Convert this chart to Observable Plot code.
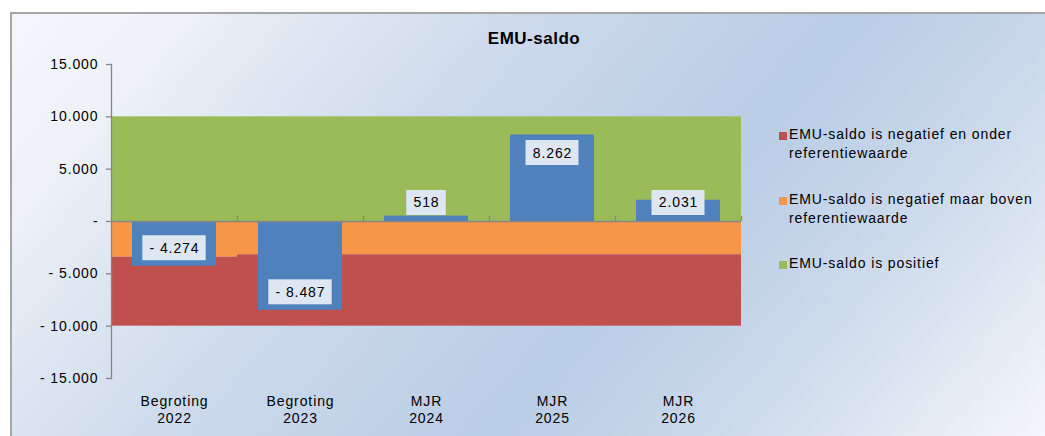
<!DOCTYPE html>
<html>
<head>
<meta charset="utf-8">
<script src="https://cdn.jsdelivr.net/npm/d3@7"></script>
<script src="https://cdn.jsdelivr.net/npm/@observablehq/plot@0.6"></script>
<style>
  html, body { margin: 0; padding: 0; background: #fff; }
  #wrap { position: relative; width: 1045px; height: 436px; overflow: hidden; background: #fff;
          font-family: "Liberation Sans", Arial, sans-serif; }
  #frame { position: absolute; left: 10px; top: 12px; width: 1036px; height: 426px;
           border-left: 2px solid #a6a6a6; border-top: 2px solid #a6a6a6;
           background: linear-gradient(131deg, #f4f6fb 0%, #eef2f8 12%, #dfe7f2 22%, #cbd8eb 39%, #b9cde5 60%, #c7d6ea 73%, #dae4f0 85%, #f4f7fb 100%); }
  #chart { position: absolute; left: 0; top: 0; }
  #title { position: absolute; left: 0; width: 1068px; top: 30px; text-align: center; font-weight: bold;
           font-size: 17px; line-height: 17px; letter-spacing: 0.5px; color: #000; }
  .leg { position: absolute; left: 789px; width: 260px; font-size: 14px; line-height: 19px; letter-spacing: 0.9px; color: #000; }
  .sw { position: absolute; left: 779px; width: 8px; height: 8px; }
</style>
</head>
<body>
<div id="wrap">
  <div id="frame"></div>
  <div id="chart"></div>
  <div id="title"></div>
  <div id="legend"></div>
</div>
<script>
// ---- data ----
const categories = ["Begroting 2022", "Begroting 2023", "MJR 2024", "MJR 2025", "MJR 2026"];
const emuSaldo = [-4274, -8487, 518, 8262, 2031];
const referentiewaarde = [-3410, -3180, -3180, -3180, -3180];
const bandTop = [10000, 10000, 10000, 10000, 10000];
const bandBottom = [-10000, -10000, -10000, -10000, -10000];
const yTicks = [-15000, -10000, -5000, 0, 5000, 10000, 15000];
const seriesNames = [
  "EMU-saldo is negatief en onder referentiewaarde",
  "EMU-saldo is negatief maar boven referentiewaarde",
  "EMU-saldo is positief"
];
const seriesColors = ["#c0504d", "#f79646", "#9bbb59"];
const barColor = "#4f81bd";
const titleText = "EMU-saldo";

// ---- layout ----
const W = 1045, H = 436;
const mLeft = 111, mRight = 304, mTop = 64, mBottom = 58;
const yDomain = [-15000, 15000];
const pxPerUnit = (H - mTop - mBottom) / (yDomain[1] - yDomain[0]);
const FS = 14;

const rows = categories.map((c, i) => ({
  cat: c, v: emuSaldo[i], ref: referentiewaarde[i], top: bandTop[i], bottom: bandBottom[i]
}));

const fmt = v => {
  if (v === 0) return "-";
  const s = d3.format(",")(Math.abs(v)).replace(/,/g, ".");
  return v < 0 ? "- " + s : s;
};

// label placement (inside end, kept clear of the zero line)
const inU = 18 / pxPerUnit, minU = 18.5 / pxPerUnit, halfBox = 12.5 / pxPerUnit;
const canvas = document.createElement("canvas");
const ctx = canvas.getContext("2d");
ctx.font = FS + "px 'Liberation Sans'";
const bandW = (W - mLeft - mRight) / categories.length;
const labels = rows.map(r => {
  const s = fmt(r.v);
  const tw = ctx.measureText(s).width + 0.9 * s.length;
  const bw = tw + 13.5;
  const sign = r.v < 0 ? -1 : 1;
  return { cat: r.cat, text: s, ly: sign * Math.max(Math.abs(r.v) - inU, minU), inset: (bandW - bw) / 2 };
});

const barInset = 21;

const marks = [
  Plot.barY(rows, { x: "cat", y1: 0, y2: "top", fill: seriesColors[2], inset: 0 }),
  Plot.barY(rows, { x: "cat", y1: 0, y2: "ref", fill: seriesColors[1], inset: 0 }),
  Plot.barY(rows, { x: "cat", y1: "ref", y2: "bottom", fill: seriesColors[0], inset: 0 }),
  Plot.barY(rows, { x: "cat", y1: 0, y2: "v", fill: barColor, insetLeft: barInset, insetRight: barInset }),
  Plot.ruleY([0], { stroke: "#868686", strokeWidth: 1.3 }),
  Plot.ruleX(categories, { x: d => d, y1: 0, y2: 5 / pxPerUnit, dx: bandW / 2, stroke: "#868686", strokeWidth: 1.3 }),
  Plot.frame({ anchor: "left", stroke: "#868686", strokeWidth: 1.3 }),
  Plot.axisY({ ticks: yTicks, tickFormat: fmt, tickSize: 5, tickPadding: 8, stroke: "#868686", strokeWidth: 1.3,
               fontSize: FS, fill: "#000" }),
  Plot.axisX({ tickSize: 0, tickPadding: 15, lineHeight: 1.24, fontSize: FS, fill: "#000",
               tickFormat: d => d.replace(" ", "\n") }),
  ...labels.map(l => Plot.barY([l], {
    x: "cat", y1: d => d.ly - halfBox, y2: d => d.ly + halfBox,
    fill: "#dde6f1", insetLeft: l.inset, insetRight: l.inset
  })),
  Plot.text(labels, { x: "cat", y: "ly", text: "text", fill: "#000", fontSize: FS })
];

const chart = Plot.plot({
  width: W, height: H,
  marginLeft: mLeft, marginRight: mRight, marginTop: mTop, marginBottom: mBottom,
  style: { background: "transparent", fontFamily: "'Liberation Sans', Arial, sans-serif",
           fontSize: FS + "px", letterSpacing: "0.9px", color: "#000", overflow: "visible" },
  x: { domain: categories, padding: 0, label: null, axis: null },
  y: { domain: yDomain, label: null, axis: null },
  marks
});
document.getElementById("chart").appendChild(chart);

document.getElementById("title").textContent = titleText;

// legend
const legTops = [125, 190, 254];
const legend = document.getElementById("legend");
[0, 1, 2].forEach(i => {
  const sw = document.createElement("div");
  sw.className = "sw";
  sw.style.top = (legTops[i] + 6.5) + "px";
  sw.style.background = seriesColors[i];
  legend.appendChild(sw);
  const t = document.createElement("div");
  t.className = "leg";
  t.style.top = legTops[i] + "px";
  t.textContent = seriesNames[i];
  legend.appendChild(t);
});
</script>
</body>
</html>
